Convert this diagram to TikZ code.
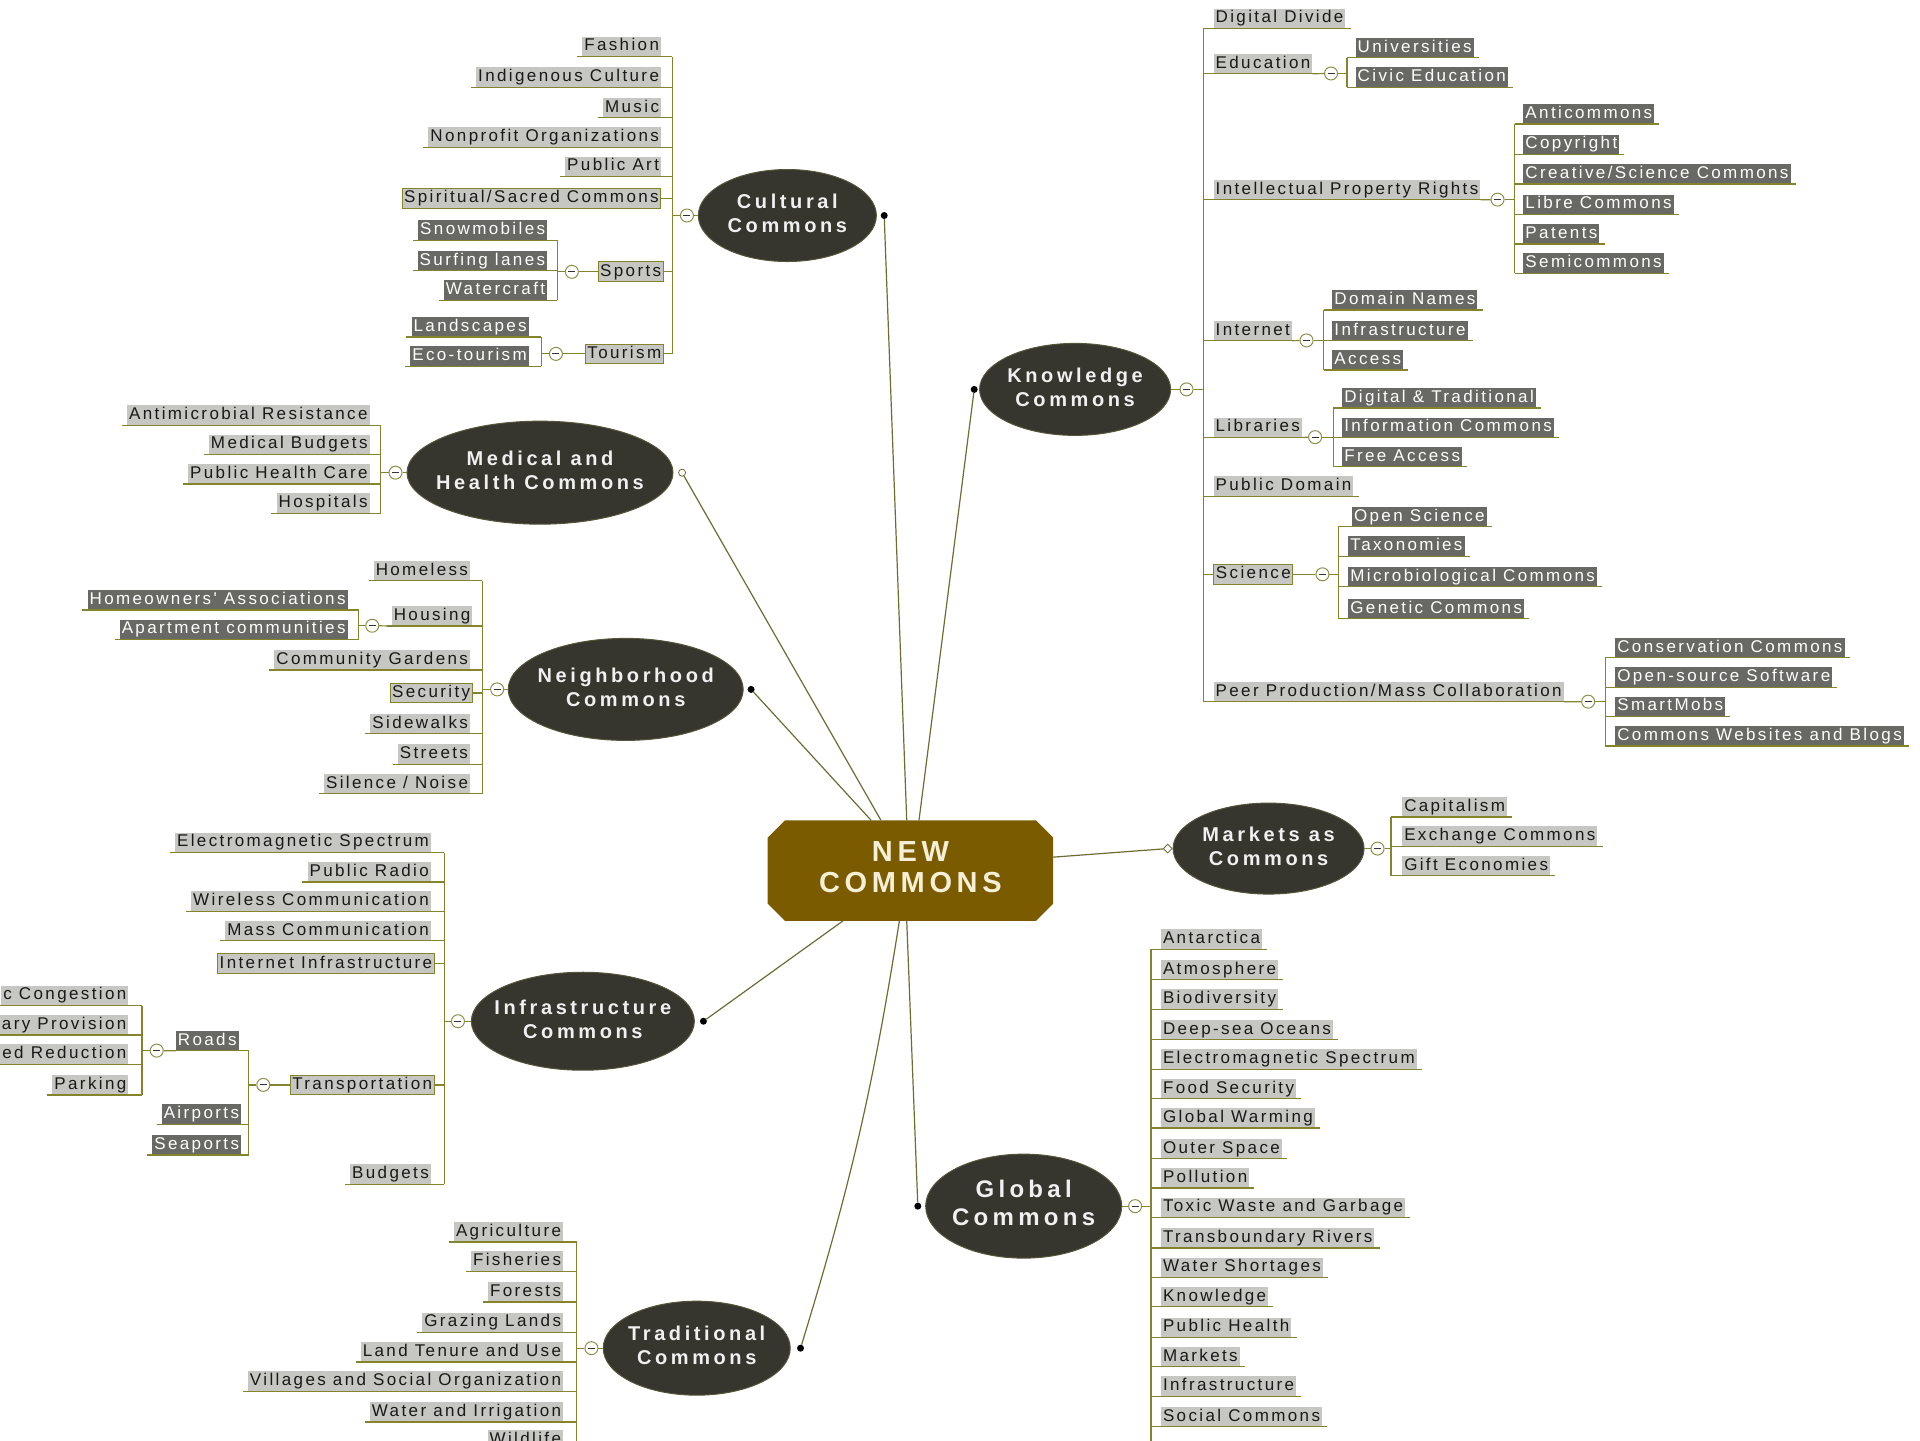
\documentclass[tikz,border=0pt]{standalone}
\usepackage{fontspec}
\setmainfont{Liberation Sans}
\newfontfamily\leaffont[LetterSpace=14]{Liberation Sans}
\newfontfamily\ellfont[LetterSpace=18]{Liberation Sans}
\newfontfamily\ctrfont[LetterSpace=16]{Liberation Sans}
\usetikzlibrary{shapes.geometric,calc}
\definecolor{lgrey}{HTML}{C6C6C2}
\definecolor{dgrey}{HTML}{686864}
\definecolor{lineol}{HTML}{85832C}
\definecolor{ellc}{HTML}{36362E}
\definecolor{ellb}{HTML}{55553A}
\definecolor{ctrc}{HTML}{7A5B00}
\definecolor{ctrtext}{HTML}{F4EFD6}
\definecolor{togc}{HTML}{8F8F4A}
\definecolor{conc}{HTML}{6E6C34}
\newcommand\twol[2]{\makebox[0pt]{\begin{tabular}{@{}c@{}}#1\\#2\end{tabular}}}
% left-side leaves (right aligned), underline to trunk
\newcommand\leafL[5]{\node[lf,anchor=east] (#1) at (#2,#3) {#4};
  \draw[ul] ([xshift=-5pt]#1.south west) -- (#1.south -| #5);}
\newcommand\leafLd[5]{\node[df,anchor=east] (#1) at (#2,#3) {#4};
  \draw[ul] ([xshift=-5pt]#1.south west) -- (#1.south -| #5);}
\newcommand\leafLb[5]{\node[lf,bx,anchor=east] (#1) at (#2,#3) {#4};
  \draw[ul] (#1.east) -- (#1 -| #5);}
% right-side leaves (left aligned)
\newcommand\leafR[5]{\node[lf,anchor=west] (#1) at (#2,#3) {#4};
  \draw[ul] (#1.south -| #5) -- ([xshift=5pt]#1.south east);}
\newcommand\leafRd[5]{\node[df,anchor=west] (#1) at (#2,#3) {#4};
  \draw[ul] (#1.south -| #5) -- ([xshift=5pt]#1.south east);}
\newcommand\leafRb[5]{\node[lf,bx,anchor=west] (#1) at (#2,#3) {#4};
  \draw[ul] (#1 -| #5) -- (#1.west);}
\begin{document}
\begin{tikzpicture}[x=1.2245pt,y=-1.2245pt,
  lf/.style={fill=lgrey, text=black!90, font=\leaffont\fontsize{17}{19}\selectfont,
    inner xsep=2pt, inner ysep=2pt, text height=12.3pt, text depth=3.4pt},
  df/.style={lf, fill=dgrey, text=white},
  bx/.style={draw=lineol, line width=1pt},
  ul/.style={draw=lineol, line width=1.2pt},
  el/.style={ellipse, fill=ellc, draw=ellb, line width=1pt, text=white!94!black,
    inner sep=0pt, font=\ellfont\bfseries\fontsize{20}{24}\selectfont},
  tog/.style={circle, draw=togc, fill=white, line width=1pt, minimum size=13pt, inner sep=0pt,
    path picture={\draw[black!80, line width=1pt] ([xshift=-3.5pt]path picture bounding box.center)
      -- ([xshift=3.5pt]path picture bounding box.center);}},
  con/.style={draw=conc, line width=1.2pt},
  dot/.style={circle, fill=black, minimum size=7pt, inner sep=0pt},
  odot/.style={circle, draw=conc, fill=white, minimum size=7pt, inner sep=0pt, line width=0.8pt},
  dia/.style={diamond, draw=conc, fill=white, minimum size=9pt, inner sep=0pt, line width=0.8pt}
]
\useasboundingbox (0,0) rectangle (1568,1176);
\fill[white] (0,0) rectangle (1568,1176);

% ---------- centre ----------
\node[minimum width=285pt, minimum height=100pt, inner sep=0pt] (nc) at (743.5,711) {};
\fill[ctrc] ($(nc.north west)+(14,0)$) -- ($(nc.north east)+(-14,0)$) -- ($(nc.north east)+(0,14)$)
  -- ($(nc.south east)+(0,-14)$) -- ($(nc.south east)+(-14,0)$) -- ($(nc.south west)+(14,0)$)
  -- ($(nc.south west)+(0,-14)$) -- ($(nc.north west)+(0,14)$) -- cycle;
\node[text=ctrtext, font=\ctrfont\bfseries\fontsize{29}{31}\selectfont, inner sep=0pt] (nct) at (nc) {\twol{NEW}{COMMONS}};

% ---------- main ellipses ----------
\node[el, minimum width=178pt, minimum height=92pt] (cul) at (643,176) {\twol{Cultural}{Commons}};
\node[el, minimum width=191pt, minimum height=92pt] (kno) at (878,318) {\twol{Knowledge}{Commons}};
\node[el, minimum width=266pt, minimum height=103pt] (med) at (441,386) {\twol{Medical and}{Health Commons}};
\node[el, minimum width=235pt, minimum height=102pt] (nei) at (511,563) {\twol{Neighborhood}{Commons}};
\node[el, minimum width=191pt, minimum height=91pt] (mar) at (1036,693) {\twol{Markets as}{Commons}};
\node[el, minimum width=223pt, minimum height=98pt] (inf) at (476,834) {\twol{Infrastructure}{Commons}};
\node[el, minimum width=196pt, minimum height=104pt, font=\ellfont\bfseries\fontsize{24}{28}\selectfont] (glo) at (836,985) {\twol{Global}{Commons}};
\node[el, minimum width=187pt, minimum height=94pt] (tra) at (569,1101) {\twol{Traditional}{Commons}};

% ---------- connectors from centre ----------
\node[dot] (dc) at ($(cul.east)+(6,0)$) {};
\node[dot] (dk) at ($(kno.west)+(-4,0)$) {};
\node[odot] (dm) at ($(med.east)+(7,0)$) {};
\node[dot] (dn) at ($(nei.east)+(6,0)$) {};
\node[dia] (dma) at ($(mar.west)+(-4,0)$) {};
\node[dot] (di) at ($(inf.east)+(7,0)$) {};
\node[dot] (dg) at ($(glo.west)+(-6,0)$) {};
\node[dot] (dt) at ($(tra.east)+(8,0)$) {};
\draw[con] ($(nc.north)+(-3,0)$) -- (dc);
\draw[con] ($(nc.north)+(7,0)$) -- (dk);
\draw[con] ($(nc.north)+(-24,0)$) -- (dm);
\draw[con] ($(nc.north)+(-32,0)$) -- (dn);
\draw[con] ($(nc.east)+(0,-11)$) -- (dma);
\draw[con] ($(nc.south)+(-55,0)$) -- (di);
\draw[con] ($(nc.south)+(-3,0)$) -- (dg);
\draw[con] ($(nc.south)+(-9,0)$) to[bend left=4] (dt);

% ---------- Cultural Commons ----------
\coordinate (Tc) at (549,0); \coordinate (Ts) at (455,0); \coordinate (Tt) at (442,0);
\leafL{c1}{540}{38}{Fashion}{Tc}
\leafL{c2}{540}{63}{Indigenous Culture}{Tc}
\leafL{c3}{540}{88}{Music}{Tc}
\leafL{c4}{540}{112}{Nonprofit Organizations}{Tc}
\leafL{c5}{540}{136}{Public Art}{Tc}
\leafLb{c6}{540}{162}{Spiritual/Sacred Commons}{Tc}
\leafLb{c7}{542}{222}{Sports}{Tc}
\leafLb{c8}{542}{289}{Tourism}{Tc}
\draw[ul] (Tc |- c1.south) -- (Tc |- c8);
\node[tog] (tC) at (561,176) {};
\draw[ul] (tC) -- (cul.west); \draw[ul] (tC) -- (tC -| Tc);
\node[tog] (tS) at (467,222) {};
\draw[ul] (tS) -- (c7.west); \draw[ul] (tS) -- (tS -| Ts);
\leafLd{c71}{447}{188}{Snowmobiles}{Ts}
\leafLd{c72}{447}{213}{Surfing lanes}{Ts}
\leafLd{c73}{447}{237}{Watercraft}{Ts}
\draw[ul] (Ts |- c71.south) -- (Ts |- c73.south);
\node[tog] (tTo) at (454,289) {};
\draw[ul] (tTo) -- (c8.west); \draw[ul] (tTo) -- (tTo -| Tt);
\leafLd{c81}{432}{267}{Landscapes}{Tt}
\leafLd{c82}{432}{291}{Eco-tourism}{Tt}
\draw[ul] (Tt |- c81.south) -- (Tt |- c82.south);

% ---------- Knowledge Commons ----------
\coordinate (Tk) at (983,0); \coordinate (Tke) at (1100,0); \coordinate (Tki) at (1237,0);
\coordinate (Tkn) at (1081,0); \coordinate (Tkl) at (1089,0); \coordinate (Tks) at (1093,0);
\coordinate (Tkp) at (1311,0);
\leafR{k1}{991}{15}{Digital Divide}{Tk}
\leafR{k2}{991}{52}{Education}{Tk}
\leafR{k3}{991}{155}{Intellectual Property Rights}{Tk}
\leafR{k4}{991}{270}{Internet}{Tk}
\leafR{k5}{991}{349}{Libraries}{Tk}
\leafR{k6}{991}{397}{Public Domain}{Tk}
\leafRb{k7}{991}{469}{Science}{Tk}
\leafR{k8}{991}{565}{Peer Production/Mass Collaboration}{Tk}
\draw[ul] (Tk |- k1.south) -- (Tk |- k8.south);
\node[tog] (tK) at (969,318) {};
\draw[ul] (tK) -- (kno.east); \draw[ul] (tK) -- (tK -| Tk);
% Education
\node[tog] (tk2) at (1087,60) {};
\draw[ul] (k2.south east) -- (tk2); \draw[ul] (tk2) -- (tk2 -| Tke);
\leafRd{k21}{1107}{39}{Universities}{Tke}
\leafRd{k22}{1107}{63}{Civic Education}{Tke}
\draw[ul] (Tke |- k21.south) -- (Tke |- k22.south);
% IPR
\node[tog] (tk3) at (1223,163) {};
\draw[ul] (k3.south east) -- (tk3); \draw[ul] (tk3) -- (tk3 -| Tki);
\leafRd{k31}{1244}{93}{Anticommons}{Tki}
\leafRd{k32}{1244}{118}{Copyright}{Tki}
\leafRd{k33}{1244}{142}{Creative/Science Commons}{Tki}
\leafRd{k34}{1244}{167}{Libre Commons}{Tki}
\leafRd{k35}{1244}{191}{Patents}{Tki}
\leafRd{k36}{1244}{215}{Semicommons}{Tki}
\draw[ul] (Tki |- k31.south) -- (Tki |- k36.south);
% Internet
\node[tog] (tk4) at (1067,278) {};
\draw[ul] (k4.south east) -- (tk4); \draw[ul] (tk4) -- (tk4 -| Tkn);
\leafRd{k41}{1088}{245}{Domain Names}{Tkn}
\leafRd{k42}{1088}{270}{Infrastructure}{Tkn}
\leafRd{k43}{1088}{294}{Access}{Tkn}
\draw[ul] (Tkn |- k41.south) -- (Tkn |- k43.south);
% Libraries
\node[tog] (tk5) at (1074,357) {};
\draw[ul] (k5.south east) -- (tk5); \draw[ul] (tk5) -- (tk5 -| Tkl);
\leafRd{k51}{1096}{325}{Digital \& Traditional}{Tkl}
\leafRd{k52}{1096}{349}{Information Commons}{Tkl}
\leafRd{k53}{1096}{373}{Free Access}{Tkl}
\draw[ul] (Tkl |- k51.south) -- (Tkl |- k53.south);
% Science
\node[tog] (tk7) at (1080,469) {};
\draw[ul] (k7.east) -- (tk7); \draw[ul] (tk7) -- (tk7 -| Tks);
\leafRd{k71}{1104}{422}{Open Science}{Tks}
\leafRd{k72}{1101}{446}{Taxonomies}{Tks}
\leafRd{k73}{1101}{471}{Microbiological Commons}{Tks}
\leafRd{k74}{1101}{497}{Genetic Commons}{Tks}
\draw[ul] (Tks |- k71.south) -- (Tks |- k74.south);
% Peer production
\node[tog] (tk8) at (1297,573) {};
\draw[ul] (k8.south east) -- (tk8); \draw[ul] (tk8) -- (tk8 -| Tkp);
\leafRd{k81}{1319}{529}{Conservation Commons}{Tkp}
\leafRd{k82}{1319}{553}{Open-source Software}{Tkp}
\leafRd{k83}{1319}{577}{SmartMobs}{Tkp}
\leafRd{k84}{1319}{601}{Commons Websites and Blogs}{Tkp}
\draw[ul] (Tkp |- k81.south) -- (Tkp |- k84.south);

% ---------- Medical and Health Commons ----------
\coordinate (Tm) at (311,0);
\leafL{m1}{302}{339}{Antimicrobial Resistance}{Tm}
\leafL{m2}{302}{363}{Medical Budgets}{Tm}
\leafL{m3}{302}{387}{Public Health Care}{Tm}
\leafL{m4}{302}{411}{Hospitals}{Tm}
\draw[ul] (Tm |- m1.south) -- (Tm |- m4.south);
\node[tog] (tM) at (323,386) {};
\draw[ul] (tM) -- (med.west); \draw[ul] (tM) -- (tM -| Tm);

% ---------- Neighborhood Commons ----------
\coordinate (Tn) at (394,0); \coordinate (Tnh) at (293,0);
\leafL{n1}{384}{466}{Homeless}{Tn}
\leafL{n2}{386}{503}{Housing}{Tn}
\leafL{n3}{384}{539}{Community Gardens}{Tn}
\leafLb{n4}{386}{566}{Security}{Tn}
\leafL{n5}{384}{591}{Sidewalks}{Tn}
\leafL{n6}{384}{616}{Streets}{Tn}
\leafL{n7}{384}{640}{Silence / Noise}{Tn}
\draw[ul] (Tn |- n1.south) -- (Tn |- n7.south);
\node[tog] (tN) at (406,563) {};
\draw[ul] (tN) -- (nei.west); \draw[ul] (tN) -- (tN -| Tn);
\node[tog] (tn2) at (304,511) {};
\draw[ul] (tn2) -- (n2.south west); \draw[ul] (tn2) -- (tn2 -| Tnh);
\leafLd{n21}{284}{490}{Homeowners' Associations}{Tnh}
\leafLd{n22}{284}{514}{Apartment communities}{Tnh}
\draw[ul] (Tnh |- n21.south) -- (Tnh |- n22.south);

% ---------- Markets as Commons ----------
\coordinate (Tma) at (1136,0);
\leafR{a1}{1145}{659}{Capitalism}{Tma}
\leafR{a2}{1145}{683}{Exchange Commons}{Tma}
\leafR{a3}{1145}{707}{Gift Economies}{Tma}
\draw[ul] (Tma |- a1.south) -- (Tma |- a3.south);
\node[tog] (tMa) at (1125,693) {};
\draw[ul] (tMa) -- (mar.east); \draw[ul] (tMa) -- (tMa -| Tma);

% ---------- Infrastructure Commons ----------
\coordinate (Ti) at (363,0); \coordinate (Tit) at (203,0); \coordinate (Tir) at (116,0);
\leafL{i1}{352}{688}{Electromagnetic Spectrum}{Ti}
\leafL{i2}{352}{712}{Public Radio}{Ti}
\leafL{i3}{352}{736}{Wireless Communication}{Ti}
\leafL{i4}{352}{760}{Mass Communication}{Ti}
\leafLb{i5}{355}{787}{Internet Infrastructure}{Ti}
\leafLb{i6}{355}{886}{Transportation}{Ti}
\leafL{i7}{352}{959}{Budgets}{Ti}
\draw[ul] (Ti |- i1.south) -- (Ti |- i7.south);
\node[tog] (tI) at (374,834) {};
\draw[ul] (tI) -- (inf.west); \draw[ul] (tI) -- (tI -| Ti);
\node[tog] (ti6) at (215,886) {};
\draw[ul] (ti6) -- (i6.west); \draw[ul] (ti6) -- (ti6 -| Tit);
\leafLd{i61}{195}{850}{Roads}{Tit}
\leafLd{i62}{197}{910}{Airports}{Tit}
\leafLd{i63}{197}{935}{Seaports}{Tit}
\draw[ul] (Tit |- i61.south) -- (Tit |- i63.south);
\node[tog] (ti61) at (128,858) {};
\draw[ul] (ti61) -- (i61.south west); \draw[ul] (ti61) -- (ti61 -| Tir);
\leafL{i611}{105}{813}{c Congestion}{Tir}
\leafL{i612}{105}{837}{ary Provision}{Tir}
\leafL{i613}{105}{861}{ed Reduction}{Tir}
\leafL{i614}{105}{886}{Parking}{Tir}
\draw[ul] (Tir |- i611.south) -- (Tir |- i614.south);

% ---------- Global Commons ----------
\coordinate (Tg) at (940,0);
\leafR{g1}{948}{767}{Antarctica}{Tg}
\leafR{g2}{948}{792}{Atmosphere}{Tg}
\leafR{g3}{948}{816}{Biodiversity}{Tg}
\leafR{g4}{948}{841}{Deep-sea Oceans}{Tg}
\leafR{g5}{948}{865}{Electromagnetic Spectrum}{Tg}
\leafR{g6}{948}{889}{Food Security}{Tg}
\leafR{g7}{948}{913}{Global Warming}{Tg}
\leafR{g8}{948}{938}{Outer Space}{Tg}
\leafR{g9}{948}{962}{Pollution}{Tg}
\leafR{g10}{948}{986}{Toxic Waste and Garbage}{Tg}
\leafR{g11}{948}{1011}{Transboundary Rivers}{Tg}
\leafR{g12}{948}{1035}{Water Shortages}{Tg}
\leafR{g13}{948}{1059}{Knowledge}{Tg}
\leafR{g14}{948}{1084}{Public Health}{Tg}
\leafR{g15}{948}{1108}{Markets}{Tg}
\leafR{g16}{948}{1132}{Infrastructure}{Tg}
\leafR{g17}{948}{1157}{Social Commons}{Tg}
\coordinate (gend) at (940,1185);
\draw[ul] (Tg |- g1.south) -- (gend);
\node[tog] (tG) at (927,985) {};
\draw[ul] (tG) -- (glo.east); \draw[ul] (tG) -- (tG -| Tg);

% ---------- Traditional Commons ----------
\coordinate (Ttr) at (471,0);
\leafL{r1}{460}{1006}{Agriculture}{Ttr}
\leafL{r2}{460}{1030}{Fisheries}{Ttr}
\leafL{r3}{460}{1055}{Forests}{Ttr}
\leafL{r4}{460}{1080}{Grazing Lands}{Ttr}
\leafL{r5}{460}{1104}{Land Tenure and Use}{Ttr}
\leafL{r6}{460}{1128}{Villages and Social Organization}{Ttr}
\leafL{r7}{460}{1153}{Water and Irrigation}{Ttr}
\leafL{r8}{460}{1176}{Wildlife}{Ttr}
\coordinate (rend) at (471,1185);
\draw[ul] (Ttr |- r1.south) -- (rend);
\node[tog] (tT) at (483,1101) {};
\draw[ul] (tT) -- (tra.west); \draw[ul] (tT) -- (tT -| Ttr);
\end{tikzpicture}
\end{document}
